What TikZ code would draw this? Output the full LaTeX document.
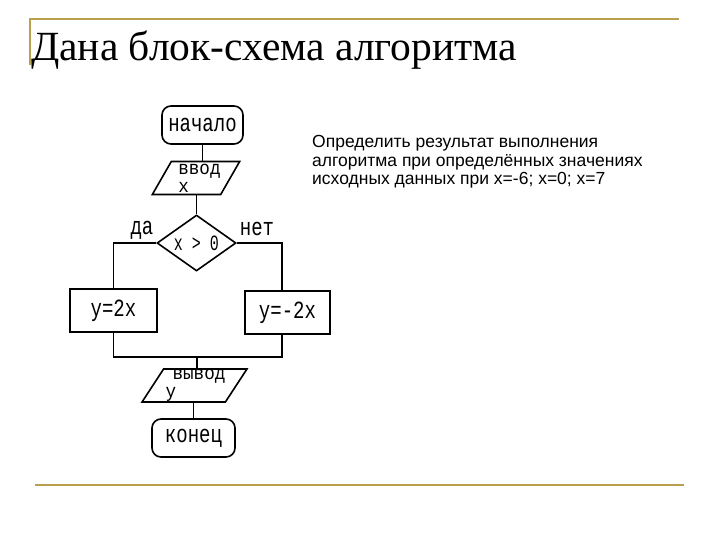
\documentclass[tikz,border=0pt]{standalone}
\usepackage{graphicx}
\usepackage{fontspec}
\setmainfont{Liberation Serif}
\newfontfamily\flowfont{Liberation Mono}
\newfontfamily\taskfont{Liberation Sans}
\newcommand\tl[1]{\scalebox{1}[1.3]{#1}}
\newcommand\tm[1]{\scalebox{1.1}[1.2]{#1}}
\usetikzlibrary{shapes.geometric,calc}
\definecolor{goldline}{RGB}{185,160,80}
\tikzset{
  frameline/.style={draw=goldline, line width=2.5pt},
  flow/.style={draw=black, line width=1.6pt, inner sep=0pt, font=\flowfont\fontsize{19}{15}\selectfont},
  terminal/.style={flow, rectangle, rounded corners=9pt},
  procbox/.style={flow, rectangle},
  iobox/.style={flow, trapezium, trapezium left angle=56.3, trapezium right angle=123.7,
    trapezium stretches=true, align=left, font=\flowfont\fontsize{16}{18}\selectfont},
  decision/.style={flow, diamond, aspect=1.4},
  conn/.style={draw=black, line width=1.6pt},
  branchlabel/.style={font=\flowfont\fontsize{19}{18}\selectfont, inner sep=0pt}
}
\begin{document}
\begin{tikzpicture}[x=1pt,y=-1pt]
\useasboundingbox (0,0) rectangle (720,540);
% frame lines
\draw[frameline] (30,65) -- (30,19) -- (679,19);
\draw[frameline] (35,485) -- (684,485);
% title
\node[anchor=base west, inner sep=0pt, font=\fontsize{41.5}{44}\selectfont] (title) at (31,61) {Дана блок-схема алгоритма};
% task text
\node[anchor=base west, inner sep=0pt, align=left, font=\taskfont\fontsize{17.5}{18.5}\selectfont] (task) at (312,185)
  {Определить результат выполнения\\алгоритма при определённых значениях\\исходных данных при x=-6; x=0; x=7};
% flowchart
\node[terminal, minimum width=81pt, minimum height=38pt] (start) at (202.5,125) {\tl{начало}};
\node[iobox, minimum width=88pt, minimum height=33pt] (in) at (196,178) {\hspace*{7pt}\tm{ввод}\\\hspace*{7pt}\tm{x}};
\node[decision, minimum width=79pt, minimum height=56pt, font=\flowfont\fontsize{15}{15}\selectfont] (dec) at (196.5,243) {\scalebox{1}[1.45]{x > 0}};
\node[procbox, minimum width=87pt, minimum height=43pt] (yes) at (113.5,310.5) {\tl{y=2x}};
\node[procbox, minimum width=85pt, minimum height=43pt] (no) at (287.5,312.5) {\tl{y=-2x}};
\coordinate (join) at (197,357);
\node[iobox, minimum width=90pt, minimum height=33pt] (out) at (194.5,385.5) {\hspace*{9pt}\tm{вывод}\\\hspace*{2pt}\tm{у}};
\node[terminal, minimum width=83pt, minimum height=38pt] (end) at (193.5,438) {\tl{конец}};
\node[branchlabel] (da) at (142,230) {\tl{да}};
\node[branchlabel] (net) at (257,229) {\tl{нет}};
% connectors
\draw[conn] (start.south) -- (start.south |- in.north);
\draw[conn] (in.south -| dec.north) -- (dec.north);
\draw[conn] (dec.west) -| (yes.north);
\draw[conn] (dec.east) -| ([xshift=-5.5pt]no.north);
\draw[conn] (yes.south) |- (join) -| ([xshift=-5.5pt]no.south);
\draw[conn] (join) -- (join |- out.north);
\draw[conn] (out.south -| end.north) -- (end.north);
\end{tikzpicture}
\end{document}
